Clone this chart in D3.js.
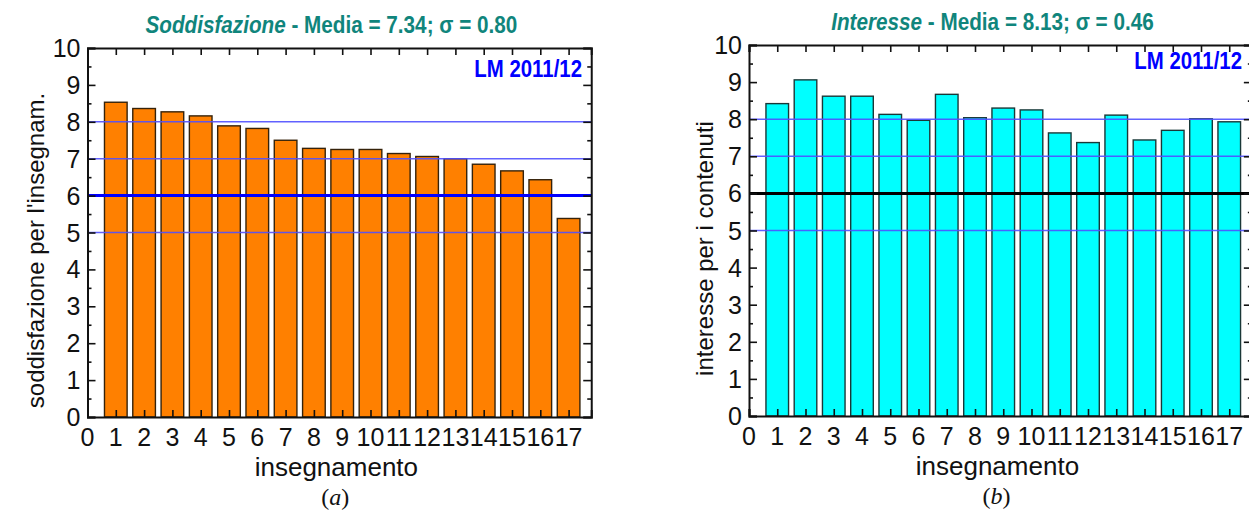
<!DOCTYPE html>
<html lang="it">
<head>
<meta charset="utf-8" />
<title>Soddisfazione / Interesse</title>
<script src="https://d3js.org/d3.v7.min.js"></script>
<style>
  body { margin: 0; background: #fff; }
  svg { display: block; font-family: "Liberation Sans", Arial, sans-serif; }
  .tick-label { font-size: 25px; fill: #111; }
  .axis-title { font-size: 24px; fill: #111; }
  .x-title { font-size: 26px; fill: #111; }
  .title { font-size: 23px; font-weight: bold; fill: #10857c; }
  .tag { font-size: 24px; font-weight: bold; fill: #0000ff; }
  .caption { font-family: "Liberation Serif", "Times New Roman", serif; font-size: 24px; fill: #111; }
</style>
</head>
<body>
<svg width="1249" height="515"></svg>
<script>
// dati
const insegnamenti = d3.range(1, 18);            // 1..17
const soddisfazione = [8.53, 8.36, 8.27, 8.16, 7.89, 7.82, 7.50, 7.28, 7.25, 7.25, 7.14, 7.06, 7.00, 6.85, 6.67, 6.43, 5.38];
const interesse = [8.42, 9.06, 8.62, 8.62, 8.13, 7.97, 8.67, 8.04, 8.30, 8.25, 7.63, 7.37, 8.11, 7.44, 7.70, 8.01, 7.93];
const yTicks = d3.range(0, 11);                  // 0..10
const xTicks = d3.range(0, 18);                  // 0..17
const refLines = [5, 7, 8];
const soglia = 6;

const svg = d3.select("svg");

function drawPanel(cfg) {
  const x = d3.scaleLinear().domain([0, 17.8]).range([cfg.left, cfg.left + 17.8 * cfg.step]);
  const y = d3.scaleLinear().domain([0, 10]).range([cfg.bottom, cfg.top]);
  const g = svg.append("g");
  const x0 = x(0), x1 = x.range()[1];
  const mid = (x0 + x1) / 2;

  // barre
  const bw = x(0.8) - x(0);
  g.append("g").selectAll("rect")
    .data(cfg.values)
    .join("rect")
    .attr("x", (d, i) => x(insegnamenti[i]) - bw / 2)
    .attr("y", d => y(d))
    .attr("width", bw)
    .attr("height", d => y(0) - y(d))
    .attr("fill", cfg.color)
    .attr("stroke", cfg.edge)
    .attr("stroke-width", 1.4);

  // linee di riferimento
  g.append("g").selectAll("line")
    .data(refLines)
    .join("line")
    .attr("x1", x0).attr("x2", x1)
    .attr("y1", d => y(d)).attr("y2", d => y(d))
    .attr("stroke", "#5050ff")
    .attr("stroke-opacity", 0.9)
    .attr("stroke-width", 1.6);

  g.append("line")
    .attr("x1", x0).attr("x2", x1)
    .attr("y1", y(soglia)).attr("y2", y(soglia))
    .attr("stroke", cfg.sogliaColor)
    .attr("stroke-width", 3);

  // assi con tacche interne
  const yLeft = d3.axisLeft(y).tickValues(d3.range(0, 10.01, 0.5))
    .tickSize(-8).tickFormat("");
  const yRight = d3.axisRight(y).tickValues(d3.range(0, 10.01, 0.5))
    .tickSize(-8).tickFormat("");
  const xTop = d3.axisTop(x).tickValues(xTicks).tickSize(-7).tickFormat("");
  const xBot = d3.axisBottom(x).tickValues(xTicks).tickSize(-7).tickFormat("");

  const axL = g.append("g").attr("transform", `translate(${x0},0)`).call(yLeft);
  const axR = g.append("g").attr("transform", `translate(${x1},0)`).call(yRight);
  g.append("g").attr("transform", `translate(0,${y(10)})`).call(xTop);
  g.append("g").attr("transform", `translate(0,${y(0)})`).call(xBot);

  // tacche minori più corte
  [axL, axR].forEach(ax => ax.selectAll(".tick line")
    .filter(d => d % 1 !== 0)
    .attr("x2", ax === axL ? 4 : -4));

  g.selectAll(".domain").attr("stroke", "#111").attr("stroke-width", 2);
  g.selectAll(".tick line").attr("stroke", "#111").attr("stroke-width", 1.6);

  // etichette delle tacche
  g.append("g").selectAll("text")
    .data(yTicks)
    .join("text")
    .attr("class", "tick-label")
    .attr("x", x0 - 7)
    .attr("y", d => y(d))
    .attr("dy", "0.36em")
    .attr("text-anchor", "end")
    .text(d => d);

  g.append("g").selectAll("text")
    .data(xTicks)
    .join("text")
    .attr("class", "tick-label")
    .attr("x", d => x(d))
    .attr("y", y(0) + 29)
    .attr("text-anchor", "middle")
    .text(d => d);

  // titolo (stretto come l'originale)
  const t = g.append("text").attr("class", "title")
    .attr("transform", `translate(${mid - 8},${cfg.top - 15}) scale(0.9,1)`)
    .attr("text-anchor", "middle");
  t.append("tspan").attr("font-style", "italic").text(cfg.name);
  t.append("tspan").text(" - " + cfg.stats);

  g.append("text").attr("class", "tag")
    .attr("transform", `translate(${cfg.tagX},${cfg.top + cfg.tagDy}) scale(0.85,1)`)
    .attr("text-anchor", "end")
    .text("LM 2011/12");

  g.append("text").attr("class", "axis-title")
    .attr("transform", `translate(${cfg.yTitleX},${(y(0) + y(10)) / 2 + 18}) rotate(-90)`)
    .attr("text-anchor", "middle")
    .text(cfg.yTitle);

  g.append("text").attr("class", "x-title")
    .attr("x", mid - 3).attr("y", y(0) + 59)
    .attr("text-anchor", "middle")
    .text("insegnamento");

  const c = g.append("text").attr("class", "caption")
    .attr("x", mid - 4).attr("y", y(0) + 88)
    .attr("text-anchor", "middle");
  c.append("tspan").text("(");
  c.append("tspan").attr("font-style", "italic").text(cfg.letter);
  c.append("tspan").text(")");
}

drawPanel({
  left: 87.5, step: 28.3, top: 48, bottom: 417,
  values: soddisfazione, color: "#ff8000", edge: "#35220a",
  sogliaColor: "#0000ff",
  name: "Soddisfazione", stats: "Media = 7.34; \u03c3 = 0.80",
  yTitle: "soddisfazione per l'insegnam.", yTitleX: 44,
  tagX: 582, tagDy: 29, letter: "a"
});

drawPanel({
  left: 749, step: 28.25, top: 45, bottom: 416,
  values: interesse, color: "#00ffff", edge: "#1a3838",
  sogliaColor: "#000000",
  name: "Interesse", stats: "Media = 8.13; \u03c3 = 0.46",
  yTitle: "interesse per i contenuti", yTitleX: 713,
  tagX: 1242, tagDy: 24, letter: "b"
});
</script>
</body>
</html>
